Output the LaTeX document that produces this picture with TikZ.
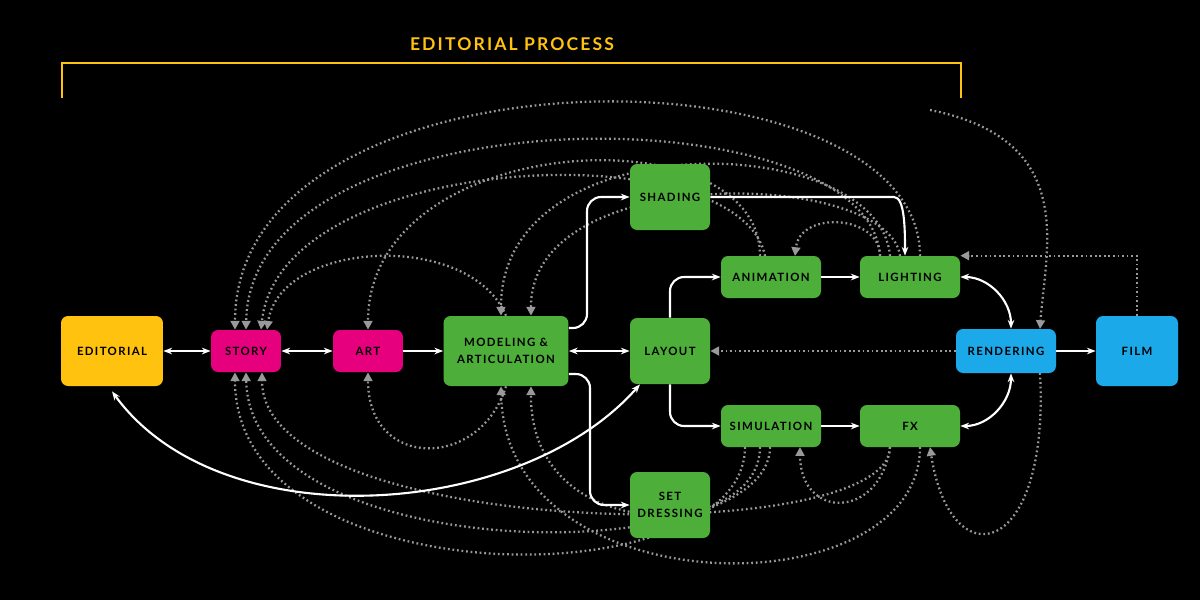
\documentclass[tikz,border=0pt]{standalone}
\usepackage{fontspec}
\setmainfont{Lato}
\usetikzlibrary{positioning, arrows.meta, backgrounds}
\definecolor{edyel}{HTML}{FFC20E}
\definecolor{stmag}{HTML}{E6007E}
\definecolor{prgreen}{HTML}{4DAF3A}
\definecolor{rnblue}{HTML}{1BA9E9}
\tikzset{
  box/.style={rounded corners=4pt, align=center, inner sep=0pt, font=\bfseries\fontsize{6.5}{10}\selectfont\addfontfeature{LetterSpace=12}, text=black}, % every stage box
  flow/.style={white, line width=1.2pt, -{Stealth[length=5pt]}, rounded corners=8pt}, % main pipeline arrows
  flows/.style={flow, {Stealth[length=5pt]}-{Stealth[length=5pt]}},
  back/.style={gray!80, line width=1.3pt, dash pattern=on 1pt off 1.6pt, -{Triangle[length=5pt, width=5pt]}}, % feedback loops
}
\begin{document}
\begin{tikzpicture}[x=0.02cm, y=-0.02cm]
  \useasboundingbox (0,0) rectangle (1200,600);
  % title and bracket
  \node[text=edyel, font=\bfseries\fontsize{10}{12}\selectfont\addfontfeature{LetterSpace=12}] (title) at (512,44) {EDITORIAL PROCESS};
  \draw[edyel, line width=1pt] (62,98) -- (62,63) -- (961,63) -- (961,98);
  % stages
  \node[box, fill=edyel, minimum width=2.04cm, minimum height=1.4cm] (edit) at (112,351) {EDITORIAL};
  \node[box, fill=stmag, minimum width=1.4cm, minimum height=0.84cm] (story) at (246,351) {STORY};
  \node[box, fill=stmag, minimum width=1.4cm, minimum height=0.84cm] (art) at (368,351) {ART};
  \node[box, fill=prgreen, minimum width=2.5cm, minimum height=1.4cm] (model) at (506,351) {MODELING \&\\ARTICULATION};
  \node[box, fill=prgreen, minimum width=1.6cm, minimum height=1.32cm] (shade) at (670,197) {SHADING};
  \node[box, fill=prgreen, minimum width=1.6cm, minimum height=1.32cm] (layout) at (670,351) {LAYOUT};
  \node[box, fill=prgreen, minimum width=1.6cm, minimum height=1.32cm] (setd) at (670,505) {SET\\DRESSING};
  \node[box, fill=prgreen, minimum width=2cm, minimum height=0.84cm] (anim) at (771,277) {ANIMATION};
  \node[box, fill=prgreen, minimum width=2cm, minimum height=0.84cm] (light) at (910,277) {LIGHTING};
  \node[box, fill=prgreen, minimum width=2cm, minimum height=0.84cm] (sim) at (771,426) {SIMULATION};
  \node[box, fill=prgreen, minimum width=2cm, minimum height=0.84cm] (fx) at (910,426) {FX};
  \node[box, fill=rnblue, minimum width=2cm, minimum height=0.88cm] (rend) at (1006,351) {RENDERING};
  \node[box, fill=rnblue, minimum width=1.64cm, minimum height=1.4cm] (film) at (1137,351) {FILM};
  % feedback loops, behind the boxes
  \begin{scope}[on background layer]
  \fill[black] (0,0) rectangle (1200,600);
  \draw[back] (rend) -- (layout);
  \draw[back] (film.north) -- ++(0,-60) coordinate (fl) -- (fl -| light.east);
  \draw[back] (920,256) .. controls (920,40) and (235,40) .. ([xshift=-0.22cm]story.north);
  \draw[back] (880,256) .. controls (870,90) and (250,90) .. (story.north);
  \draw[back] (765,256) .. controls (740,130) and (280,150) .. ([xshift=0.3cm]story.north);
  \draw[back] (model.north) .. controls (470,230) and (280,240) .. ([xshift=0.42cm]story.north);
  \draw[back] (880,256) .. controls (880,215) and (800,210) .. (795,256);
  \draw[back] (760,256) .. controls (760,110) and (368,130) .. (art.north);
  \draw[back] (890,256) .. controls (880,130) and (500,120) .. ([xshift=-0.1cm]model.north);
  \draw[back] (900,256) .. controls (890,170) and (530,160) .. ([xshift=0.5cm]model.north);
  \draw[back] (model.south) .. controls (480,470) and (368,470) .. (art.south);
  \draw[back] (745,447) .. controls (745,600) and (235,600) .. ([xshift=-0.22cm]story.south);
  \draw[back] (770,447) .. controls (770,570) and (250,570) .. (story.south);
  \draw[back] (890,447) .. controls (890,550) and (262,540) .. ([xshift=0.32cm]story.south);
  \draw[back] (920,447) .. controls (920,610) and (505,610) .. ([xshift=-0.1cm]model.south);
  \draw[back] (760,447) .. controls (760,540) and (530,550) .. ([xshift=0.5cm]model.south);
  \draw[back] (890,447) .. controls (880,520) and (800,520) .. (800,447);
  \draw[back] (930,110) .. controls (1080,140) and (1045,250) .. (1040,329);
  \draw[back] (1040,373) .. controls (1050,560) and (950,580) .. (930,447);
  \end{scope}
  % main pipeline
  \draw[flows] (edit) -- (story);
  \draw[flows] (story) -- (art);
  \draw[flow] (art) -- (model);
  \draw[flows] (model) -- (layout);
  \draw[flow] (rend) -- (film);
  \draw[flow] (model.east |- 0,328) -| (587,197) -- (shade.west);
  \draw[flow] (model.east |- 0,374) -| (590,505) -- (setd.west);
  \draw[flow] (layout.north) |- (anim.west);
  \draw[flow] (layout.south) |- (sim.west);
  \draw[flow] (anim) -- (light);
  \draw[flow] (sim) -- (fx);
  \draw[flow] (shade.east) -- (880,197) to[out=0, in=90] ([xshift=-0.1cm]light.north);
  \draw[flows] (light.east) to[out=0, in=90] ([xshift=0.1cm]rend.north);
  \draw[flows] (fx.east) to[out=0, in=-90] ([xshift=0.1cm]rend.south);
  \draw[flows] ([yshift=-0.1cm]edit.south) .. controls (220,540) and (520,520) .. ([xshift=-0.6cm]layout.south);
\end{tikzpicture}
\end{document}
